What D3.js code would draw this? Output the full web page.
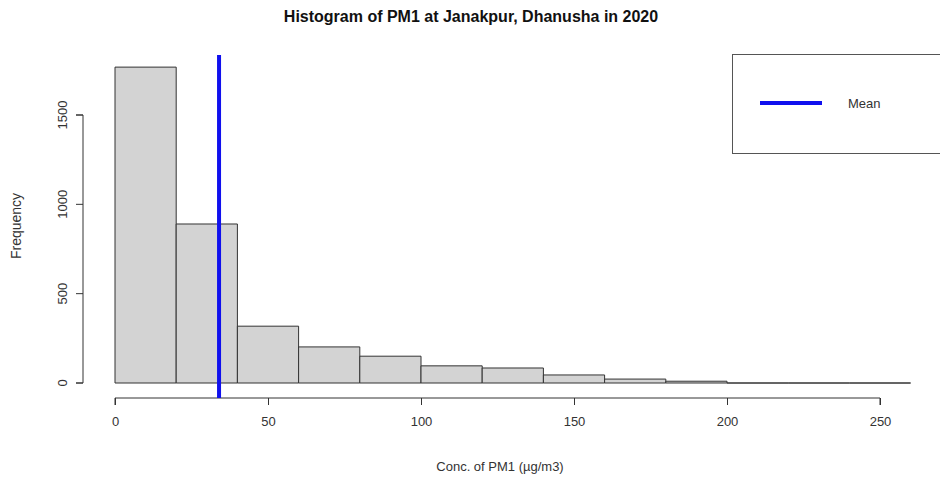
<!DOCTYPE html>
<html>
<head>
<meta charset="utf-8">
<script src="https://cdn.jsdelivr.net/npm/d3@7"></script>
<style>
  body { margin: 0; background: #fff; }
  text { font-family: "Liberation Sans", Arial, sans-serif; }
</style>
</head>
<body>
<script>
var binStarts = [0, 20, 40, 60, 80, 100, 120, 140, 160, 180, 200, 220, 240];
var binWidth = 20;
var counts = [1768, 890, 318, 202, 150, 96, 84, 45, 22, 10, 0, 0, 0];
var meanPM1 = 34;
var xTicks = [0, 50, 100, 150, 200, 250];
var yTicks = [0, 500, 1000, 1500];

var width = 940, height = 480;

var svg = d3.select("body").append("svg")
  .attr("width", width)
  .attr("height", height);

var x = d3.scaleLinear().domain([0, 250]).range([115, 880]);
var y = d3.scaleLinear().domain([0, 1500]).range([383, 115]);

// bars (paths so empty bins still draw as a flat line)
svg.selectAll("path.bar")
  .data(counts)
  .enter().append("path")
  .attr("class", "bar")
  .attr("d", function(d, i) {
    var x0 = x(binStarts[i]), x1 = x(binStarts[i] + binWidth);
    return "M" + x0 + "," + y(0) + "V" + y(d) + "H" + x1 + "V" + y(0) + "Z";
  })
  .attr("fill", "#d3d3d3")
  .attr("stroke", "#333")
  .attr("stroke-width", 1);

// x axis
var xAxis = svg.append("g")
  .attr("transform", "translate(0,398)")
  .call(d3.axisBottom(x).tickValues(xTicks).tickSize(7).tickPadding(12));

// y axis
var yAxis = svg.append("g")
  .attr("transform", "translate(83,0)")
  .call(d3.axisLeft(y).tickValues(yTicks).tickFormat(d3.format("d")).tickSize(7));

[xAxis, yAxis].forEach(function(g) {
  g.select(".domain").attr("stroke", "#333");
  g.selectAll(".tick line").attr("stroke", "#333");
  g.selectAll(".tick text").attr("font-size", 13).attr("fill", "#333")
    .attr("font-family", "Liberation Sans, Arial, sans-serif");
});
xAxis.select(".domain").attr("d", "M" + x(0) + ",7V0H" + x(250) + "V7");
yAxis.select(".domain").attr("d", "M-7," + y(0) + "H0V" + y(1500) + "H-7");

yAxis.selectAll(".tick").attr("transform", null);
yAxis.selectAll(".tick line").attr("transform", function(d) { return "translate(0," + y(d) + ")"; });
yAxis.selectAll(".tick text")
  .attr("x", 0)
  .attr("y", 0)
  .attr("dy", "0.35em")
  .attr("text-anchor", "middle")
  .attr("transform", function(d) { return "translate(-21," + y(d) + ") rotate(-90)"; });

// mean line
svg.append("line")
  .attr("x1", x(meanPM1)).attr("x2", x(meanPM1))
  .attr("y1", 55).attr("y2", 398)
  .attr("stroke", "#1010ee")
  .attr("stroke-width", 4);

// title
svg.append("text")
  .attr("x", 471).attr("y", 22)
  .attr("text-anchor", "middle")
  .attr("font-size", 16)
  .attr("font-weight", "bold")
  .attr("fill", "#111")
  .text("Histogram of PM1 at Janakpur, Dhanusha in 2020");

// axis labels
svg.append("text")
  .attr("x", 500).attr("y", 471)
  .attr("text-anchor", "middle")
  .attr("font-size", 13)
  .attr("fill", "#333")
  .text("Conc. of PM1 (µg/m3)");

svg.append("text")
  .attr("transform", "translate(21,226) rotate(-90)")
  .attr("text-anchor", "middle")
  .attr("font-size", 14)
  .attr("fill", "#333")
  .text("Frequency");

// legend
var legend = svg.append("g");
legend.append("rect")
  .attr("x", 732.5).attr("y", 54.5)
  .attr("width", 220).attr("height", 99)
  .attr("fill", "#fff")
  .attr("stroke", "#555")
  .attr("stroke-width", 1);
legend.append("line")
  .attr("x1", 760).attr("x2", 822)
  .attr("y1", 103).attr("y2", 103)
  .attr("stroke", "#1010ee")
  .attr("stroke-width", 4);
legend.append("text")
  .attr("x", 848).attr("y", 108)
  .attr("font-size", 13)
  .attr("fill", "#333")
  .text("Mean");
</script>
</body>
</html>
